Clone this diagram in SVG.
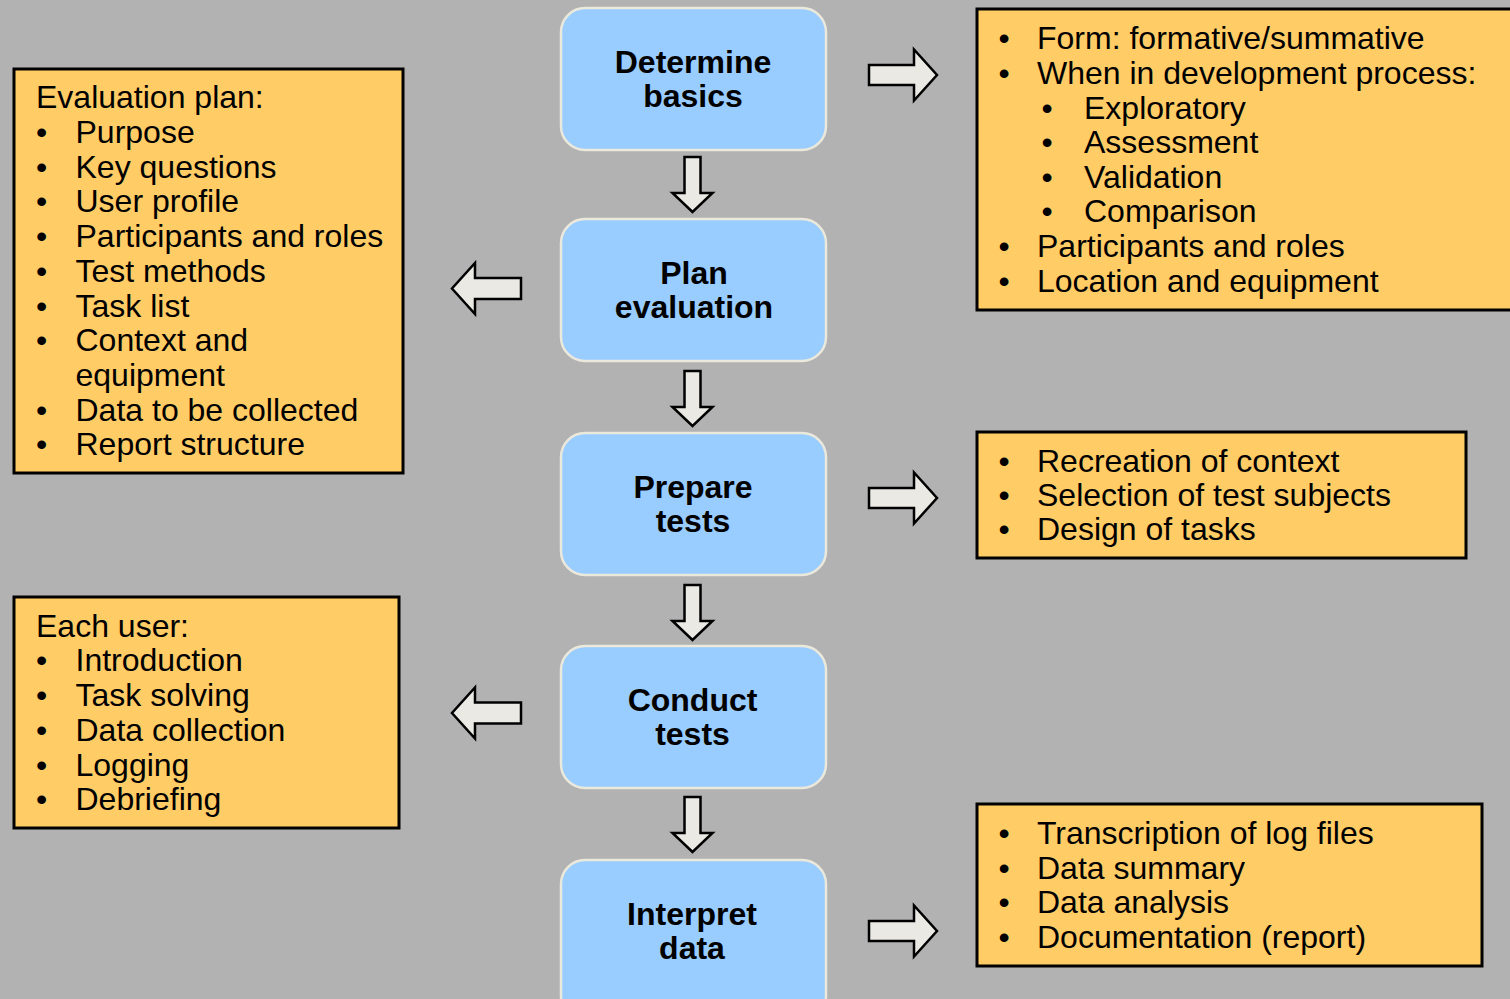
<svg xmlns="http://www.w3.org/2000/svg" width="1510" height="999" viewBox="0 0 1510 999">
<defs>
<style>
.bg{fill:#b2b2b2}
.step{fill:#99ccff;stroke:#ebe8dc;stroke-width:2.5}
.note{fill:#ffcc66;stroke:#000;stroke-width:3}
.arr{fill:#eae9e3;stroke:#000;stroke-width:2.5;stroke-linejoin:miter}
.st{font-family:"Liberation Sans",Arial,sans-serif;font-weight:bold;font-size:32px;fill:#000;text-anchor:middle}
.t{font-family:"Liberation Sans",Arial,sans-serif;font-size:32px;fill:#000}
.b{font-family:"Liberation Sans",Arial,sans-serif;font-size:32px;fill:#000;text-anchor:middle}
</style>
</defs>
<rect class="bg" x="0" y="0" width="1510" height="999"/>

<g id="connectors">
<path class="arr" d="M684.5,157 H700.5 V193 H712.5 L692.5,212 L672.5,193 H684.5 Z"/>
<path class="arr" d="M684.5,371 H700.5 V407 H712.5 L692.5,426 L672.5,407 H684.5 Z"/>
<path class="arr" d="M684.5,585 H700.5 V621 H712.5 L692.5,640 L672.5,621 H684.5 Z"/>
<path class="arr" d="M684.5,797 H700.5 V833 H712.5 L692.5,852 L672.5,833 H684.5 Z"/>
<path class="arr" d="M869,65 H914 V49.5 L937,75 L914,100.5 V85 H869 Z"/>
<path class="arr" d="M869,488 H914 V472.5 L937,498 L914,523.5 V508 H869 Z"/>
<path class="arr" d="M869,921 H914 V905.5 L937,931 L914,956.5 V941 H869 Z"/>
<path class="arr" d="M521,278 H475 V263 L452,288.5 L475,314 V299 H521 Z"/>
<path class="arr" d="M521,702.5 H475 V687.5 L452,713 L475,738.5 V723.5 H521 Z"/>
</g>

<g id="step1">
<rect class="step" x="561" y="8" width="265" height="142" rx="24"/>
<text class="st" x="693" y="72.5">Determine</text>
<text class="st" x="693" y="107">basics</text>
</g>
<g id="step2">
<rect class="step" x="561" y="219" width="265" height="142" rx="24"/>
<text class="st" x="694" y="283.5">Plan</text>
<text class="st" x="694" y="318">evaluation</text>
</g>
<g id="step3">
<rect class="step" x="561" y="433" width="265" height="142" rx="24"/>
<text class="st" x="693" y="497.5">Prepare</text>
<text class="st" x="693" y="532">tests</text>
</g>
<g id="step4">
<rect class="step" x="561" y="646" width="265" height="142" rx="24"/>
<text class="st" x="692.5" y="710.5">Conduct</text>
<text class="st" x="692.5" y="745">tests</text>
</g>
<g id="step5">
<rect class="step" x="561" y="860" width="265" height="160" rx="24"/>
<text class="st" x="692" y="924.5">Interpret</text>
<text class="st" x="692" y="959">data</text>
</g>

<g id="note-basics">
<rect class="note" x="977" y="9" width="545" height="301"/>
<text class="b" x="1004" y="49.3">•</text><text class="t" x="1037" y="49.3">Form: formative/summative</text>
<text class="b" x="1004" y="83.9">•</text><text class="t" x="1037" y="83.9">When in development process:</text>
<text class="b" x="1047" y="118.5">•</text><text class="t" x="1084" y="118.5">Exploratory</text>
<text class="b" x="1047" y="153.1">•</text><text class="t" x="1084" y="153.1">Assessment</text>
<text class="b" x="1047" y="187.7">•</text><text class="t" x="1084" y="187.7">Validation</text>
<text class="b" x="1047" y="222.3">•</text><text class="t" x="1084" y="222.3">Comparison</text>
<text class="b" x="1004" y="256.9">•</text><text class="t" x="1037" y="256.9">Participants and roles</text>
<text class="b" x="1004" y="291.5">•</text><text class="t" x="1037" y="291.5">Location and equipment</text>
</g>

<g id="note-plan">
<rect class="note" x="14" y="69" width="389" height="404"/>
<text class="t" x="36" y="108.3">Evaluation plan:</text>
<text class="b" x="41.5" y="143">•</text><text class="t" x="75.5" y="143">Purpose</text>
<text class="b" x="41.5" y="177.7">•</text><text class="t" x="75.5" y="177.7">Key questions</text>
<text class="b" x="41.5" y="212.4">•</text><text class="t" x="75.5" y="212.4">User profile</text>
<text class="b" x="41.5" y="247.1">•</text><text class="t" x="75.5" y="247.1">Participants and roles</text>
<text class="b" x="41.5" y="281.8">•</text><text class="t" x="75.5" y="281.8">Test methods</text>
<text class="b" x="41.5" y="316.5">•</text><text class="t" x="75.5" y="316.5">Task list</text>
<text class="b" x="41.5" y="351.2">•</text><text class="t" x="75.5" y="351.2">Context and</text>
<text class="t" x="75.5" y="385.9">equipment</text>
<text class="b" x="41.5" y="420.6">•</text><text class="t" x="75.5" y="420.6">Data to be collected</text>
<text class="b" x="41.5" y="455.3">•</text><text class="t" x="75.5" y="455.3">Report structure</text>
</g>

<g id="note-prepare">
<rect class="note" x="977" y="432" width="489" height="126"/>
<text class="b" x="1004" y="471.7">•</text><text class="t" x="1037" y="471.7">Recreation of context</text>
<text class="b" x="1004" y="505.7">•</text><text class="t" x="1037" y="505.7">Selection of test subjects</text>
<text class="b" x="1004" y="539.7">•</text><text class="t" x="1037" y="539.7">Design of tasks</text>
</g>

<g id="note-conduct">
<rect class="note" x="14" y="597" width="385" height="231"/>
<text class="t" x="36" y="636.7">Each user:</text>
<text class="b" x="41.5" y="671.4">•</text><text class="t" x="75.5" y="671.4">Introduction</text>
<text class="b" x="41.5" y="706.1">•</text><text class="t" x="75.5" y="706.1">Task solving</text>
<text class="b" x="41.5" y="740.8">•</text><text class="t" x="75.5" y="740.8">Data collection</text>
<text class="b" x="41.5" y="775.5">•</text><text class="t" x="75.5" y="775.5">Logging</text>
<text class="b" x="41.5" y="810.2">•</text><text class="t" x="75.5" y="810.2">Debriefing</text>
</g>

<g id="note-interpret">
<rect class="note" x="977" y="804" width="505" height="162"/>
<text class="b" x="1004" y="844">•</text><text class="t" x="1037" y="844">Transcription of log files</text>
<text class="b" x="1004" y="878.7">•</text><text class="t" x="1037" y="878.7">Data summary</text>
<text class="b" x="1004" y="913.4">•</text><text class="t" x="1037" y="913.4">Data analysis</text>
<text class="b" x="1004" y="948.1">•</text><text class="t" x="1037" y="948.1">Documentation (report)</text>
</g>
</svg>
